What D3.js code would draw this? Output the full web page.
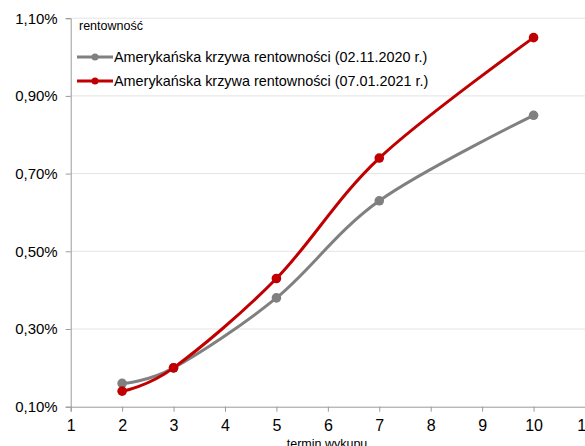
<!DOCTYPE html>
<html>
<head>
<meta charset="utf-8">
<script src="https://cdn.jsdelivr.net/npm/d3@7"></script>
<style>
  html, body { margin: 0; padding: 0; background: #fff; }
  svg { display: block; font-family: "Liberation Sans", Arial, sans-serif; }
</style>
</head>
<body>
<svg id="chart" width="585" height="446"></svg>
<script>
// Maturity (years) on the x axis
const maturities = [2, 3, 5, 7, 10];
// Yields in percent for the two dates
const yieldsNov2020 = [0.16, 0.20, 0.38, 0.63, 0.85];
const yieldsJan2021 = [0.14, 0.20, 0.43, 0.74, 1.05];
const seriesNames = [
  "Amerykańska krzywa rentowności (02.11.2020 r.)",
  "Amerykańska krzywa rentowności (07.01.2021 r.)"
];
const seriesColors = ["#808080", "#C00000"];
const yTicks = [0.10, 0.30, 0.50, 0.70, 0.90, 1.10];
const xTicks = [1, 2, 3, 4, 5, 6, 7, 8, 9, 10, 11];

const svg = d3.select("#chart");
const plotLeft = 70.7, plotRight = 585, plotTop = 18.2, plotBottom = 406.7;

const x = d3.scaleLinear().domain([1, 11]).range([plotLeft, plotRight]);
const y = d3.scaleLinear().domain([0.10, 1.10]).range([plotBottom, plotTop]);

// horizontal gridlines
svg.append("g").selectAll("line")
  .data(yTicks.filter(t => t > 0.10))
  .join("line")
  .attr("x1", plotLeft).attr("x2", plotRight)
  .attr("y1", d => y(d)).attr("y2", d => y(d))
  .attr("stroke", "#e4e4e4").attr("stroke-width", 1);

const fmt = d => d.toFixed(2).replace(".", ",") + "%";

// y axis
const yAxis = svg.append("g")
  .attr("transform", `translate(${plotLeft},0)`)
  .call(d3.axisLeft(y).tickValues(yTicks).tickFormat(fmt).tickSize(5).tickPadding(8));
yAxis.select(".domain").attr("stroke", "#9a9a9a");
yAxis.selectAll(".tick line").attr("stroke", "#9a9a9a");
yAxis.selectAll("text").attr("font-size", 15).attr("fill", "#000")
  .attr("font-family", "Liberation Sans, Arial, sans-serif");

// x axis
const xAxis = svg.append("g")
  .attr("transform", `translate(0,${plotBottom})`)
  .call(d3.axisBottom(x).tickValues(xTicks).tickFormat(d3.format("d")).tickSize(5).tickPadding(8));
xAxis.select(".domain").attr("stroke", "#9a9a9a");
xAxis.selectAll(".tick line").attr("stroke", "#9a9a9a");
xAxis.selectAll("text").attr("font-size", 16).attr("fill", "#000")
  .attr("font-family", "Liberation Sans, Arial, sans-serif");

// axis titles
svg.append("text").attr("x", 79).attr("y", 30)
  .attr("font-size", 12.5).attr("fill", "#000").text("rentowność");
svg.append("text").attr("x", 327).attr("y", 448).attr("text-anchor", "middle")
  .attr("font-size", 12.5).attr("fill", "#000").text("termin wykupu");

const series = [yieldsNov2020, yieldsJan2021];
const line = d3.line()
  .x((d, i) => x(maturities[i]))
  .y(d => y(d))
  .curve(d3.curveCardinal.tension(0));

series.forEach((vals, s) => {
  const g = svg.append("g");
  g.append("path").datum(vals)
    .attr("d", line)
    .attr("fill", "none")
    .attr("stroke", seriesColors[s])
    .attr("stroke-width", 3)
    .attr("stroke-linejoin", "round");
  g.selectAll("circle").data(vals).join("circle")
    .attr("cx", (d, i) => x(maturities[i]))
    .attr("cy", d => y(d))
    .attr("r", 4.8)
    .attr("fill", seriesColors[s]);
});

// legend
const legend = svg.append("g");
seriesNames.forEach((name, i) => {
  const ly = 57 + i * 24;
  legend.append("line").attr("x1", 77).attr("x2", 113)
    .attr("y1", ly).attr("y2", ly)
    .attr("stroke", seriesColors[i]).attr("stroke-width", 3);
  legend.append("circle").attr("cx", 95).attr("cy", ly).attr("r", 3.5)
    .attr("fill", seriesColors[i]);
  legend.append("text").attr("x", 114).attr("y", ly + 5)
    .attr("font-size", 14.4).attr("fill", "#000").text(name);
});
</script>
</body>
</html>
